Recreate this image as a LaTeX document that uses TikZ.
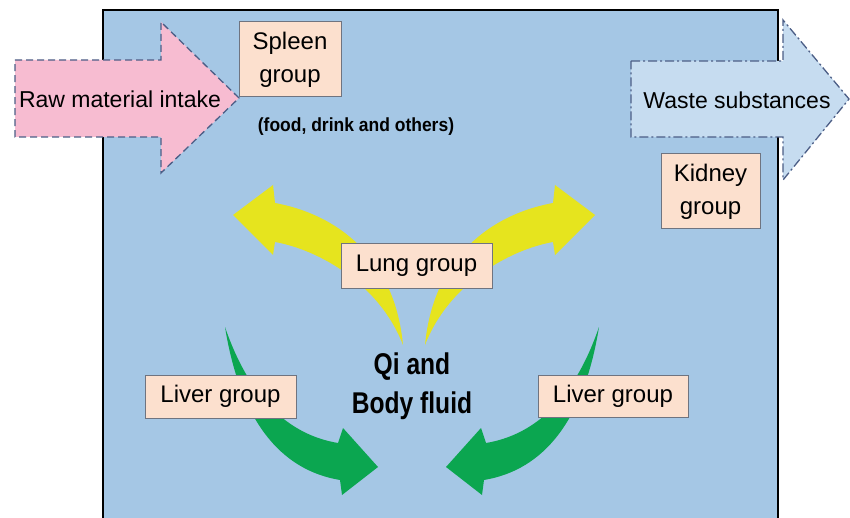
\documentclass[tikz,border=0pt]{standalone}
\usepackage{fontspec}
\setmainfont{Liberation Sans}
\newfontfamily\narrowsans{Liberation Sans}[FakeStretch=0.82]
\newfontfamily\notesans{Liberation Sans}[FakeStretch=0.92]
\usetikzlibrary{positioning}
\definecolor{panelblue}{HTML}{A5C7E5}
\definecolor{intakepink}{HTML}{F7BCD1}
\definecolor{wasteblue}{HTML}{C6DCF0}
\definecolor{edgeblue}{HTML}{4C5E86}
\definecolor{boxpeach}{HTML}{FCE0CE}
\definecolor{boxedge}{HTML}{6F7480}
\definecolor{lungyellow}{HTML}{E6E41E}
\definecolor{livergreen}{HTML}{0BA650}
\tikzset{
  groupbox/.style={draw=boxedge,fill=boxpeach,line width=1pt,
                   align=center,inner sep=3pt,
                   font=\fontsize{24}{33}\selectfont},
  intakearrow/.style={draw=edgeblue,fill=intakepink,line width=1.3pt,
                      dash pattern=on 7pt off 4pt},
  wastearrow/.style={draw=edgeblue,fill=wasteblue,line width=1.3pt,
                     dash pattern=on 9pt off 3pt on 2pt off 3pt},
  lungflow/.style={fill=lungyellow},
  liverflow/.style={fill=livergreen},
  arrowtext/.style={font=\fontsize{23}{26}\selectfont,inner sep=0pt}
}
\begin{document}
\begin{tikzpicture}[x=1pt,y=-1pt]
  \useasboundingbox (0,0) rectangle (850,518);
  % panel
  \fill[white] (0,0) rectangle (850,518);
  \draw[black,line width=1.6pt,fill=panelblue] (103,10) rectangle (778,530);

  % in and out
  \draw[intakearrow] (15,60) -- (161,60) -- (161,22) -- (239,98)
    -- (161,173) -- (161,137) -- (15,137) -- cycle;
  \node[arrowtext] (intake) at (120,99) {Raw material intake};
  \draw[wastearrow] (631,61) -- (783,61) -- (783,20) -- (849,99)
    -- (783,180) -- (783,137) -- (631,137) -- cycle;
  \node[arrowtext] (waste) at (737,100) {Waste substances};

  \node[groupbox,minimum width=102,minimum height=75] (spleen) at (290,59.5) {Spleen\\group};
  \node[font=\notesans\bfseries\fontsize{19}{22}\selectfont] (food) at (356,127) {(food, drink and others)};
  \node[groupbox,minimum width=99,minimum height=75] (kidney) at (710.5,191.5) {Kidney\\group};

  % yellow flows
  \fill[lungflow] (403,345) .. controls (380,285) and (320,250) .. (275,242)
    -- (273,255) -- (233,215) -- (273,185) -- (275,203)
    .. controls (340,215) and (395,260) .. (403,345) -- cycle;
  \begin{scope}[xshift=828pt,xscale=-1]
    \fill[lungflow] (403,345) .. controls (380,285) and (320,250) .. (275,242)
      -- (273,255) -- (233,215) -- (273,185) -- (275,203)
      .. controls (340,215) and (395,260) .. (403,345) -- cycle;
  \end{scope}

  % green flows
  \fill[liverflow] (225,327) .. controls (240,420) and (280,470) .. (340,480)
    -- (342,495) -- (378,467) -- (343,428) -- (338,443)
    .. controls (290,435) and (250,400) .. (225,327) -- cycle;
  \begin{scope}[xshift=824pt,xscale=-1]
    \fill[liverflow] (225,327) .. controls (240,420) and (280,470) .. (340,480)
      -- (342,495) -- (378,467) -- (343,428) -- (338,443)
      .. controls (290,435) and (250,400) .. (225,327) -- cycle;
  \end{scope}

  \node[groupbox,minimum width=151,minimum height=44] (lung) at (416.5,266) {Lung group};
  \node[groupbox,minimum width=151,minimum height=43] (liverL) at (220.5,396.5) {Liver group};
  \node[groupbox,minimum width=150,minimum height=42] (liverR) at (613,396) {Liver group};
  \node[font=\narrowsans\bfseries\fontsize{30}{39}\selectfont,align=center] (qi) at (412,386) {Qi and\\Body fluid};
\end{tikzpicture}
\end{document}
